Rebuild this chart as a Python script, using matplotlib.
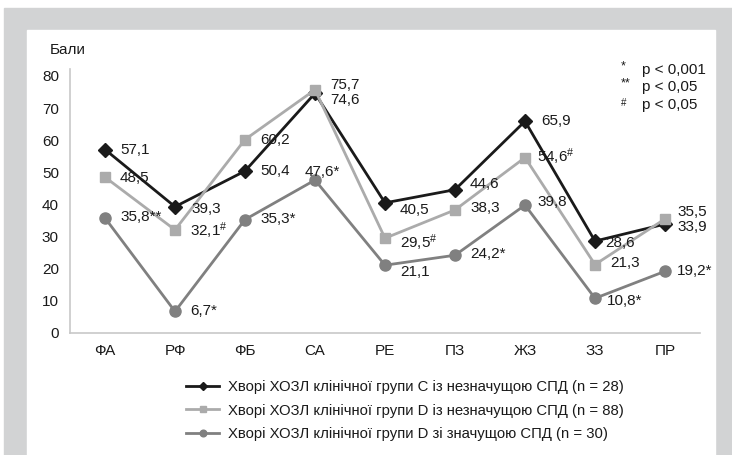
import matplotlib.pyplot as plt
from matplotlib.patches import Rectangle

plt.rcParams['font.family'] = ['Liberation Sans', 'DejaVu Sans']
plt.rcParams['mathtext.fontset'] = 'custom'
plt.rcParams['mathtext.rm'] = 'Liberation Sans'
plt.rcParams['mathtext.it'] = 'Liberation Sans'

# data
categories = ['ФА', 'РФ', 'ФБ', 'СА', 'РЕ', 'ПЗ', 'ЖЗ', 'ЗЗ', 'ПР']
group_c = [57.1, 39.3, 50.4, 74.6, 40.5, 44.6, 65.9, 28.6, 33.9]
group_d_ns = [48.5, 32.1, 60.2, 75.7, 29.5, 38.3, 54.6, 21.3, 35.5]
group_d_s = [35.8, 6.7, 35.3, 47.6, 21.1, 24.2, 39.8, 10.8, 19.2]

labels_c = ['57,1', '39,3', '50,4', '74,6', '40,5', '44,6', '65,9', '28,6', '33,9']
labels_d_ns = ['48,5', r'32,1$^{\#}$', '60,2', '75,7', r'29,5$^{\#}$', '38,3',
               r'54,6$^{\#}$', '21,3', '35,5']
labels_d_s = ['35,8**', '6,7*', '35,3*', '47,6*', '21,1', '24,2*', '39,8',
              '10,8*', '19,2*']

legend_names = ['Хворі ХОЗЛ клінічної групи С із незначущою СПД (n = 28)',
                'Хворі ХОЗЛ клінічної групи D із незначущою СПД (n = 88)',
                'Хворі ХОЗЛ клінічної групи D зі значущою СПД (n = 30)']

# label offsets in pixels (dx, dy)
off_c = [(15, 0), (16, -2), (15, 0), (15, -7), (15, -7), (15, 6), (16, 0), (10, -2), (12, -3)]
off_d_ns = [(15, -1), (15, -1), (15, 0), (15, 5), (15, -4), (15, 2), (12, 1), (15, 2), (12, 7)]
off_d_s = [(15, 1), (15, 0), (15, 1), (-10, 8), (15, -7), (15, 1), (12, 3), (12, -3), (12, 0)]

W, H = 732, 455
FS = 11
fig = plt.figure(figsize=(W / 100, H / 100), dpi=100)
fig.patches.append(Rectangle((4 / W, 0), 1 - 4 / W, 1 - 8 / H, transform=fig.transFigure,
                             color='#d2d3d4', zorder=-2))
fig.patches.append(Rectangle((27 / W, 0), (715 - 27) / W, 1 - 30 / H, transform=fig.transFigure,
                             color='white', zorder=-1))

ax = fig.add_axes([70 / W, 1 - 333 / H, 630 / W, (333 - 69.5) / H])
ax.patch.set_alpha(0)
x = list(range(len(categories)))

series = [
    (group_c, labels_c, off_c, '#1a1a1a', 'D', 7),
    (group_d_ns, labels_d_ns, off_d_ns, '#ababab', 's', 7.5),
    (group_d_s, labels_d_s, off_d_s, '#808080', 'o', 8),
]
for (vals, labs, offs, col, mk, ms), name in zip(series, legend_names):
    ax.plot(x, vals, color=col, lw=2, marker=mk, ms=ms, label=name)
    for xi, v, lab, (dx, dy) in zip(x, vals, labs, offs):
        ax.annotate(lab, (xi, v), xytext=(dx, dy), textcoords='offset pixels',
                    ha='left', va='center', fontsize=FS, color='#1a1a1a')

ax.set_xlim(-0.5, 8.5)
ax.set_ylim(0, 82)
ax.set_yticks(range(0, 81, 10))
ax.set_xticks(x)
ax.set_xticklabels(categories)
ax.tick_params(length=0, labelsize=FS, colors='#1a1a1a')
ax.tick_params(axis='y', pad=8)
ax.tick_params(axis='x', pad=8)
for s in ['top', 'right']:
    ax.spines[s].set_visible(False)
for s in ['left', 'bottom']:
    ax.spines[s].set_color('#c8c8c8')
    ax.spines[s].set_linewidth(1.2)

fig.text(50 / W, 1 - 50 / H, 'Бали', fontsize=FS, va='center', color='#1a1a1a')

for i, (sym, txt) in enumerate([('*', 'p < 0,001'), ('**', 'p < 0,05'), ('#', 'p < 0,05')]):
    yy = 1 - (70 + 17.5 * i) / H
    fig.text(621 / W, yy + (4 / H if sym != '#' else 2 / H), sym, fontsize=9 if sym != '#' else 7,
             va='center', color='#1a1a1a')
    fig.text(642 / W, yy, txt, fontsize=FS, va='center', color='#1a1a1a')

leg = fig.legend(loc='upper left', bbox_to_anchor=(173 / W, 1 - 367 / H), frameon=False,
                 fontsize=10.7, handlelength=2.2, markerscale=0.6, labelspacing=0.62,
                 handletextpad=0.6)
for t in leg.get_texts():
    t.set_color('#1a1a1a')

fig.savefig('out.png', dpi=100)
